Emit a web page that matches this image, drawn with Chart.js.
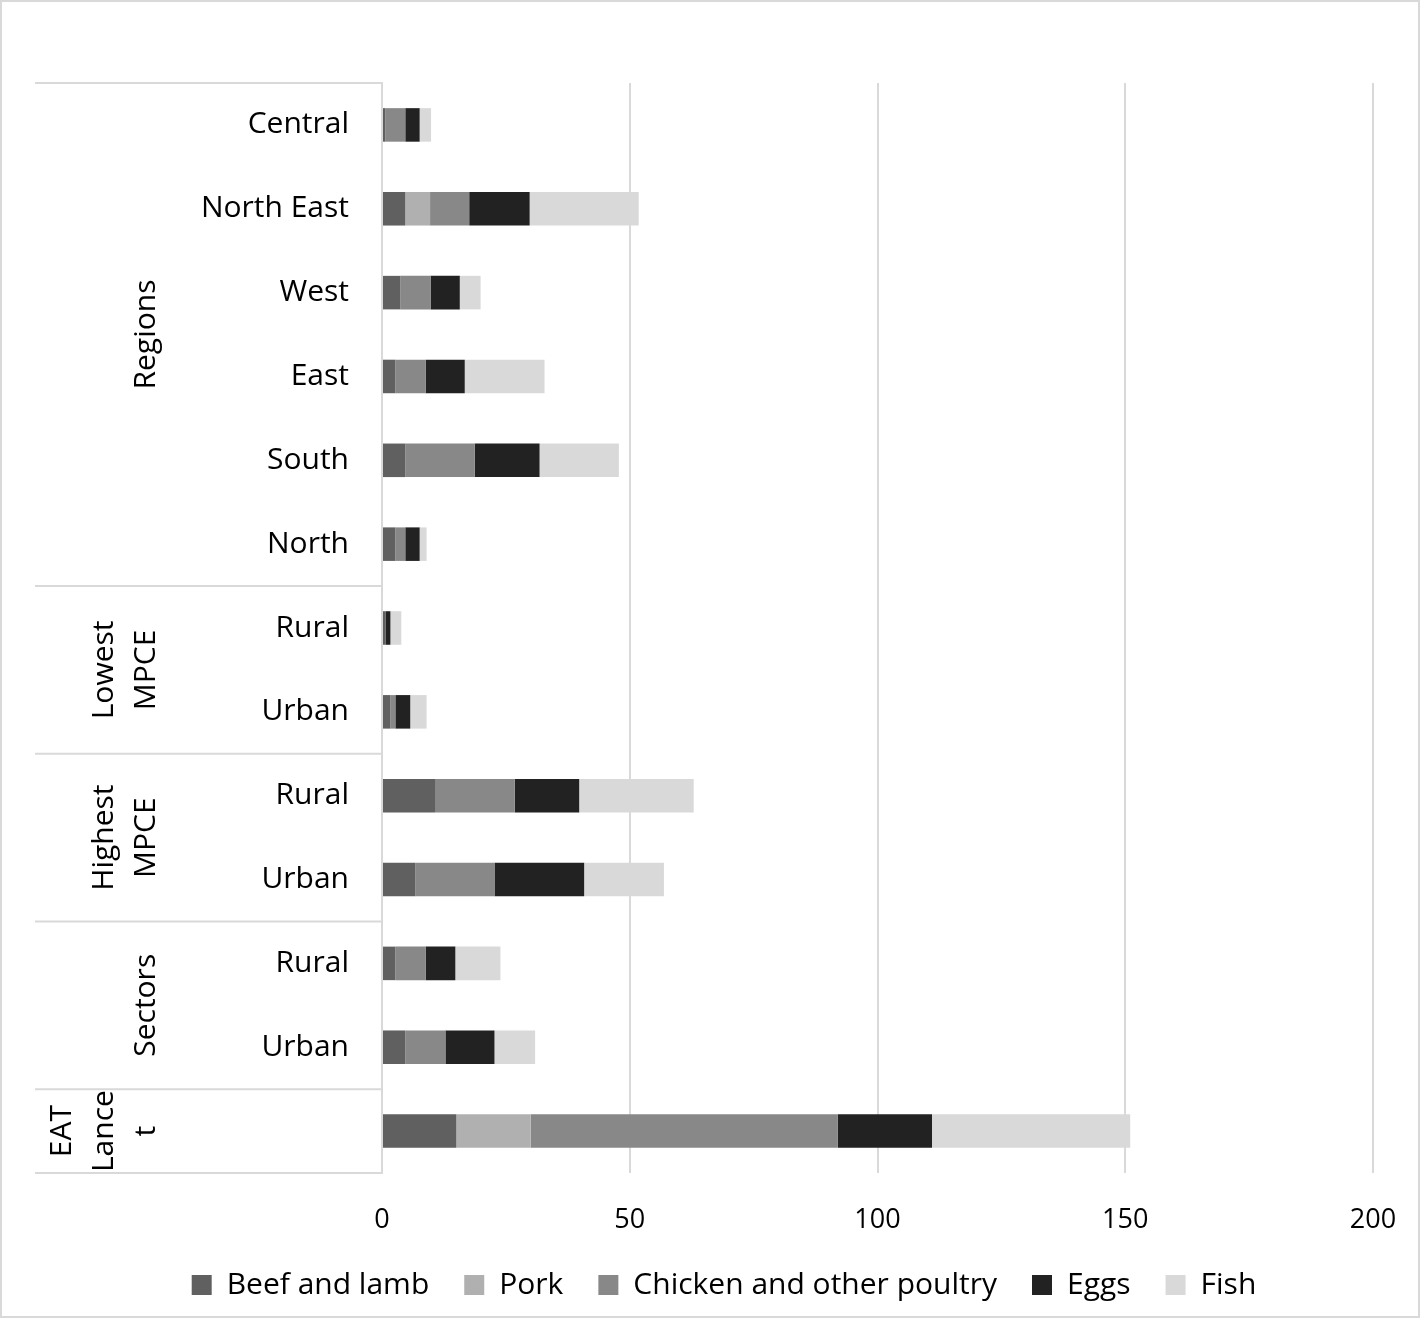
<!DOCTYPE html>
<html>
<head>
<meta charset="utf-8">
<script src="https://cdn.jsdelivr.net/npm/chart.js@4.4.1/dist/chart.umd.min.js"></script>
<style>
  body { margin: 0; background: #fff; }
  #wrap { width: 1420px; height: 1318px; position: relative; }
</style>
</head>
<body>
<div id="wrap"><canvas id="chart" width="1420" height="1318"></canvas></div>
<script>
// sub-category labels, top to bottom
const categories = ['Central', 'North East', 'West', 'East', 'South', 'North',
    'Rural', 'Urban', 'Rural', 'Urban', 'Rural', 'Urban', ''];

// group labels (as wrapped in the original) and how many rows each spans
const groupLines = [['Regions'], ['Lowest', 'MPCE'], ['Highest', 'MPCE'], ['Sectors'], ['EAT', 'Lance', 't']];
const groupSizes = [6, 2, 2, 2, 1];

const beefLamb = [0.7, 4.7, 3.7, 2.7, 4.7, 2.7, 0.7, 1.7, 10.7, 6.7, 2.7, 4.7, 15];
const pork     = [0, 5.0, 0, 0, 0, 0, 0, 0, 0, 0, 0, 0, 15];
const chicken  = [4.0, 7.9, 6.1, 6.1, 14.0, 2.0, 0, 1.0, 16.1, 16.0, 6.1, 8.1, 62];
const eggs     = [2.9, 12.2, 5.9, 7.9, 13.1, 2.9, 1.0, 3.0, 13.0, 18.1, 6.0, 9.9, 19];
const fish     = [2.3, 22.0, 4.2, 16.1, 16.0, 1.4, 2.2, 3.3, 23.1, 16.1, 9.1, 8.2, 40];

const FONT = '"Open Sans", Lato, sans-serif';
const LINE = '#d9d9d9';

const frame = {
    id: 'frame',
    beforeDraw(chart) {
        const ctx = chart.ctx;
        ctx.save();
        ctx.fillStyle = '#fff';
        ctx.fillRect(0, 0, chart.width, chart.height);
        ctx.strokeStyle = LINE;
        ctx.lineWidth = 2;
        ctx.strokeRect(1, 1, chart.width - 2, chart.height - 2);
        ctx.restore();
    }
};

// multi-level category axis: group boxes and rotated labels
const groups = {
    id: 'groups',
    afterDraw(chart) {
        const ctx = chart.ctx;
        const y = chart.scales.y;
        const area = chart.chartArea;
        const step = (area.bottom - area.top) / categories.length;
        const x0 = 35, x1 = area.left;
        ctx.save();
        ctx.strokeStyle = LINE;
        ctx.lineWidth = 2;
        let idx = 0;
        const bounds = [area.top];
        groupSizes.forEach(n => {
            idx += n;
            bounds.push(y.getPixelForValue(idx - 1) + step / 2);
        });
        bounds.forEach(b => {
            ctx.beginPath();
            ctx.moveTo(x0, b);
            ctx.lineTo(x1, b);
            ctx.stroke();
        });
        ctx.fillStyle = '#000';
        ctx.font = '30px ' + FONT;
        ctx.textAlign = 'center';
        ctx.textBaseline = 'middle';
        groupLines.forEach((lines, g) => {
            const cy = (bounds[g] + bounds[g + 1]) / 2;
            lines.forEach((txt, k) => {
                const cx = 146 - (lines.length - 1 - k) * 42;
                ctx.save();
                ctx.translate(cx, cy);
                ctx.rotate(-Math.PI / 2);
                ctx.fillText(txt, 0, 0);
                ctx.restore();
            });
        });
        ctx.restore();
    }
};

new Chart(document.getElementById('chart'), {
    type: 'bar',
    data: {
        labels: categories,
        datasets: [
            { label: 'Beef and lamb', data: beefLamb, backgroundColor: '#606060' },
            { label: 'Pork', data: pork, backgroundColor: '#b0b0b0' },
            { label: 'Chicken and other poultry', data: chicken, backgroundColor: '#888888' },
            { label: 'Eggs', data: eggs, backgroundColor: '#222222' },
            { label: 'Fish', data: fish, backgroundColor: '#d9d9d9' }
        ]
    },
    options: {
        indexAxis: 'y',
        responsive: false,
        animation: false,
        barPercentage: 0.4,
        categoryPercentage: 1,
        layout: { padding: { top: 83, right: 47, left: 75, bottom: 8 } },
        scales: {
            x: {
                stacked: true,
                min: 0, max: 200,
                ticks: { stepSize: 50, color: '#000', font: { family: FONT, size: 27 }, padding: 31 },
                grid: { color: LINE, lineWidth: 2, drawTicks: false },
                border: { display: false },
                afterFit(s) { s.height = 62; s.paddingLeft = 0; s.paddingRight = 0; }
            },
            y: {
                stacked: true,
                ticks: { color: '#000', font: { family: FONT, size: 30 }, padding: 33, autoSkip: false },
                grid: { display: false, drawTicks: false },
                border: { color: LINE, width: 2 },
                afterFit(s) { s.width = 307; }
            }
        },
        plugins: {
            legend: {
                position: 'bottom',
                labels: {
                    color: '#000',
                    font: { family: FONT, size: 30 },
                    boxWidth: 20, boxHeight: 20,
                    padding: 35
                }
            },
            tooltip: { enabled: false }
        }
    },
    plugins: [frame, groups]
});
</script>
</body>
</html>
